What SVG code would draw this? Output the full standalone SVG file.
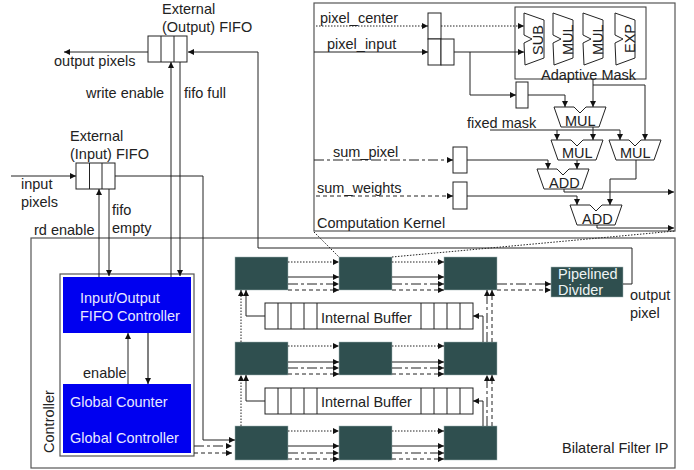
<svg xmlns="http://www.w3.org/2000/svg" width="694" height="470" viewBox="0 0 694 470">
<style>
text{font-family:"Liberation Sans",Arial,sans-serif;font-size:14.500px;fill:#222}
.w{fill:#eef4f4}
.bw{fill:#e8e8ff}
.box{fill:#fff;stroke:#333;stroke-width:1}
.frame{fill:none;stroke:#555;stroke-width:1.2}
.reg{fill:#fff;stroke:#222;stroke-width:1}
.dark{fill:#2f4f4f;stroke:#9fb3b3;stroke-width:.5}
.blue{fill:#0000f0}
.op{fill:#fff;stroke:#222;stroke-width:1}
.c{fill:none;stroke:#222;stroke-width:1}
.a{marker-end:url(#arr)}
.dot{stroke-dasharray:1.5 1.5}
.dash{stroke-dasharray:4 3}
.dd{stroke-dasharray:10 3 3 3}
</style>
<defs>
<marker id="arr" markerWidth="7" markerHeight="6" refX="6" refY="3" orient="auto" markerUnits="userSpaceOnUse"><path d="M0 0L6 3L0 6z" fill="#111"/></marker>
<path id="sl" d="M0 0L20 7V45L1 52L0 30L8 26L0 22z"/>
<path id="tr" d="M0 0H20L26 6L32 0H52L45 20H7z"/>
</defs>
<g id="ip-frame"><rect class="frame" x="31" y="238" width="644" height="230"/><text x="562" y="453">Bilateral Filter IP</text></g>
<g id="kernel"><rect class="frame" x="314" y="3" width="361" height="228"/><text x="317" y="228">Computation Kernel</text></g>
<g id="output-fifo"><rect class="reg" x="148" y="36" width="39" height="26"/><path class="c" d="M161 36V62M174 36V62" stroke-width="1.4"/><text x="162" y="14">External</text><text x="162" y="32">(Output) FIFO</text></g>
<g id="input-fifo"><rect class="reg" x="76" y="163" width="39" height="26"/><path class="c" d="M89.500 163V189M102 163V189"/><text x="70" y="141">External</text><text x="70" y="159">(Input) FIFO</text></g>
<g id="controller"><rect class="frame" x="60" y="274" width="134" height="182"/><text transform="translate(54,453) rotate(-90)">Controller</text></g>
<g id="fifo-controller"><rect class="blue" x="63" y="277" width="128" height="56"/><text class="bw" x="80" y="303">Input/Output</text><text class="bw" x="80" y="321">FIFO Controller</text></g>
<g id="global"><rect class="blue" x="63" y="384" width="128" height="69"/><text class="bw" x="70" y="407">Global Counter</text><text class="bw" x="70" y="443">Global Controller</text></g>
<g id="pe-11"><rect class="dark" x="235" y="257" width="53" height="33"/></g>
<g id="pe-12"><rect class="dark" x="339" y="257" width="53" height="33"/></g>
<g id="pe-13"><rect class="dark" x="444" y="257" width="53" height="33"/></g>
<g id="pe-21"><rect class="dark" x="235" y="342" width="53" height="33"/></g>
<g id="pe-22"><rect class="dark" x="339" y="342" width="53" height="33"/></g>
<g id="pe-23"><rect class="dark" x="444" y="342" width="53" height="33"/></g>
<g id="pe-31"><rect class="dark" x="235" y="426" width="53" height="34"/></g>
<g id="pe-32"><rect class="dark" x="339" y="426" width="53" height="34"/></g>
<g id="pe-33"><rect class="dark" x="444" y="426" width="53" height="34"/></g>
<g id="buffer-1"><rect class="reg" x="265" y="303" width="208" height="26"/><path class="c" d="M278 303V329M291 303V329M304 303V329M317 303V329M421 303V329M434 303V329M447 303V329M460 303V329"/><text x="321" y="323">Internal Buffer</text></g>
<g id="buffer-2"><rect class="reg" x="265" y="388" width="208" height="26"/><path class="c" d="M278 388V414M291 388V414M304 388V414M317 388V414M421 388V414M434 388V414M447 388V414M460 388V414"/><text x="321" y="407">Internal Buffer</text></g>
<g id="divider"><rect class="dark" x="551" y="267" width="72" height="30"/><text class="w" x="558" y="279">Pipelined</text><text class="w" x="558" y="295">Divider</text></g>
<g id="adaptive-mask"><rect class="box" x="515" y="7" width="131" height="72"/>
<use href="#sl" class="op" x="524" y="13"/><use href="#sl" class="op" x="553" y="13"/><use href="#sl" class="op" x="583" y="13"/><use href="#sl" class="op" x="615" y="13"/>
<text transform="translate(543,55) rotate(-90)">SUB</text><text transform="translate(573,55) rotate(-90)">MUL</text><text transform="translate(603,55) rotate(-90)">MUL</text><text transform="translate(635,53) rotate(-90)">EXP</text>
<text x="541" y="80">Adaptive Mask</text></g>
<g id="regs"><rect class="reg" x="428" y="13" width="13" height="26"/><rect class="reg" x="428" y="39" width="13" height="26"/><rect class="reg" x="441" y="39" width="13" height="26"/><rect class="reg" x="516" y="82" width="12" height="26"/><rect class="reg" x="453" y="147" width="14" height="26"/><rect class="reg" x="453" y="182" width="14" height="27"/></g>
<g id="mul-top"><use href="#tr" class="op" x="554" y="107"/><text x="565" y="126">MUL</text></g>
<g id="mul-a"><use href="#tr" class="op" x="551" y="140"/><text x="562" y="158">MUL</text></g>
<g id="mul-b"><use href="#tr" class="op" x="609" y="140"/><text x="620" y="158">MUL</text></g>
<g id="add-a"><use href="#tr" class="op" x="537" y="169"/><text x="549" y="188">ADD</text></g>
<g id="add-b"><use href="#tr" class="op" x="570" y="205"/><text x="582" y="224">ADD</text></g>
<g id="labels">
<text x="54" y="66">output pixels</text><text x="86" y="98">write enable</text><text x="184" y="98">fifo full</text>
<text x="21" y="189">input</text><text x="21" y="207">pixels</text><text x="34" y="235">rd enable</text><text x="112" y="215">fifo</text><text x="112" y="233">empty</text>
<text x="83" y="378">enable</text>
<text x="630" y="300">output</text><text x="630" y="318">pixel</text>
<text x="320" y="23">pixel_center</text><text x="327" y="49">pixel_input</text><text x="467" y="128">fixed mask</text><text x="333" y="157">sum_pixel</text><text x="317" y="193">sum_weights</text>
</g>
<g id="connectors">
<path class="c a" d="M148 52H64"/>
<path class="c a" d="M623 284H632V248H258V52H188"/>
<path class="c a" d="M171 277V62"/><path class="c a" d="M180 62V276"/>
<path class="c a" d="M11 176H76"/><path class="c a" d="M115 176H203V440H235"/>
<path class="c a" d="M99 277V189"/><path class="c a" d="M109 189V276"/>
<path class="c a" d="M128 384V333"/><path class="c a" d="M148 333V384" style="stroke:#555;stroke-width:1.500"/>
<path class="c a dd" d="M194 446H232"/><path class="c a dash" d="M194 453H232"/>
<path class="c dot" d="M314 232L339 257M392 257L675 231"/>
<path class="c a dot" d="M316 26H428"/><path class="c a dot" d="M441 26H524"/>
<path class="c a" d="M314 52H428"/><path class="c a" d="M454 52H524"/><path class="c a" d="M470 52V95H516"/>
<path class="c a" d="M528 95H565V107"/><path class="c a" d="M593 79V107"/><path class="c a" d="M593 85H645V140"/>
<path class="c a" d="M593 127V140"/><path class="c a" d="M490 130H557V140"/><path class="c a" d="M557 130H620V140"/>
<path class="c a dd" d="M314 160H453"/><path class="c a" d="M467 160H548V169"/><path class="c a" d="M577 160V169"/>
<path class="c a" d="M564 189V192H674"/>
<path class="c a dash" d="M316 196H453"/><path class="c a" d="M467 196H577V205"/><path class="c a" d="M636 160V179H610V205"/>
<path class="c a" d="M597 225V228H674"/>
<path class="c a dot" d="M288 262H339"/><path class="c a" d="M288 277H339"/><path class="c a dd" d="M288 284H339"/><path class="c a dash" d="M288 290H339"/>
<path class="c a dot" d="M392 262H444"/><path class="c a" d="M392 277H444"/><path class="c a dd" d="M392 284H444"/><path class="c a dash" d="M392 290H444"/>
<path class="c a dd" d="M497 284H551"/><path class="c a dash" d="M497 290H551"/>
<path class="c a dot" d="M288 346H339"/><path class="c a" d="M288 362H339"/><path class="c a dd" d="M288 368H339"/><path class="c a dash" d="M288 374H339"/>
<path class="c a dot" d="M392 346H444"/><path class="c a" d="M392 362H444"/><path class="c a dd" d="M392 368H444"/><path class="c a dash" d="M392 374H444"/>
<path class="c a dot" d="M288 431H339"/><path class="c a" d="M288 446H339"/><path class="c a dd" d="M288 453H339"/><path class="c a dash" d="M288 459H339"/>
<path class="c a dot" d="M392 431H444"/><path class="c a" d="M392 446H444"/><path class="c a dd" d="M392 453H444"/><path class="c a dash" d="M392 459H444"/>
<path class="c a dot" d="M241 342V290"/><path class="c a" d="M265 316H246V290"/>
<path class="c a dot" d="M241 426V375"/><path class="c a" d="M265 401H246V375"/>
<path class="c a" d="M483 342V316H473"/><path class="c a dd" d="M487 342V290"/><path class="c a dash" d="M492 342V290"/>
<path class="c a" d="M483 426V401H473"/><path class="c a dd" d="M487 426V375"/><path class="c a dash" d="M492 426V375"/>
</g>
</svg>
